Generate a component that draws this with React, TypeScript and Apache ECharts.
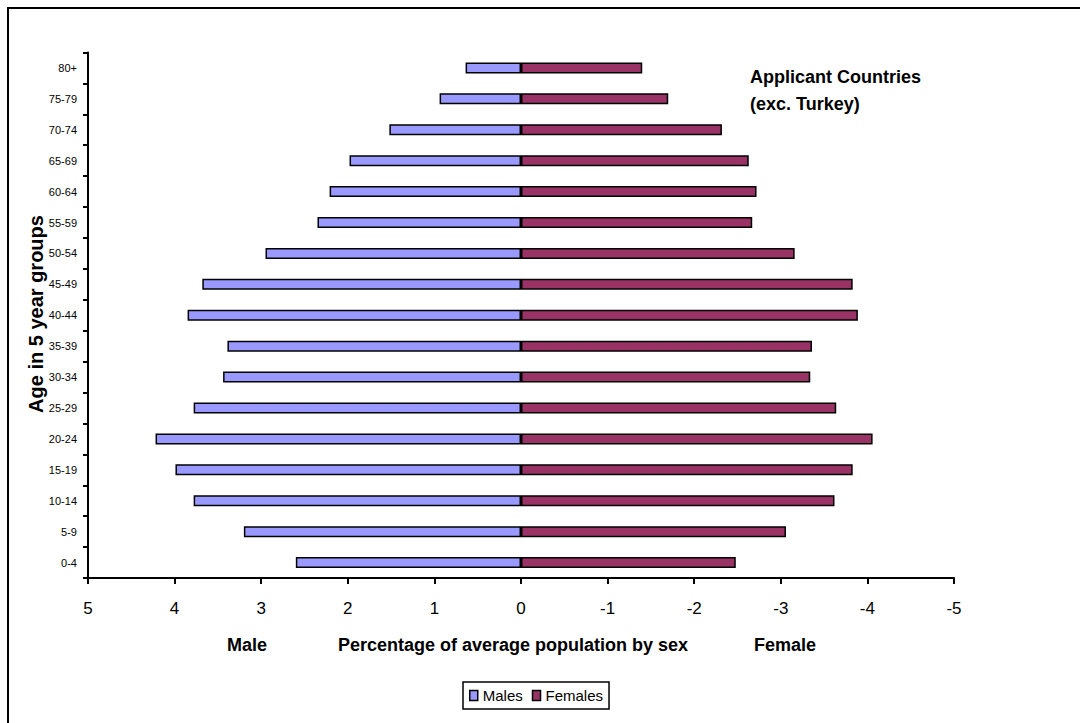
import React, { useEffect, useRef } from "react";
import * as echarts from "echarts";

const categories = ["0-4", "5-9", "10-14", "15-19", "20-24", "25-29", "30-34", "35-39", "40-44", "45-49", "50-54", "55-59", "60-64", "65-69", "70-74", "75-79", "80+"];
const males = [2.6, 3.2, 3.78, 3.99, 4.22, 3.78, 3.44, 3.39, 3.85, 3.68, 2.95, 2.35, 2.21, 1.98, 1.52, 0.94, 0.64];
const females = [-2.48, -3.06, -3.62, -3.83, -4.06, -3.64, -3.34, -3.36, -3.89, -3.83, -3.16, -2.67, -2.72, -2.63, -2.32, -1.7, -1.4];
const seriesNames = ["Males", "Females"];
const titleLines = ["Applicant Countries", "(exc. Turkey)"];
const xNames = ["Male", "Percentage of average population by sex", "Female"];
const yName = "Age in 5 year groups";

const FONT = "Arial, 'Liberation Sans', Helvetica, sans-serif";

export default function App() {
  const ref = useRef<HTMLDivElement>(null);
  useEffect(() => {
    if (!ref.current) return;
    const chart = echarts.init(ref.current, undefined, { renderer: "svg" });
    const bold = { fontFamily: FONT, fontWeight: "bold", fill: "#000" };
    chart.setOption({
      animation: false,
      backgroundColor: "#fff",
      textStyle: { fontFamily: FONT },
      grid: { left: 88, right: 126, top: 52.5, bottom: 145, containLabel: false },
      xAxis: {
        type: "value",
        min: -5,
        max: 5,
        interval: 1,
        inverse: true,
        axisLine: { show: true, onZero: false, lineStyle: { color: "#000", width: 2 } },
        axisTick: { show: true, length: 6, lineStyle: { color: "#000", width: 2 } },
        axisLabel: { color: "#000", fontSize: 17, margin: 22, fontFamily: FONT },
        splitLine: { show: false },
      },
      yAxis: {
        type: "category",
        data: categories,
        axisLine: { show: true, onZero: false, lineStyle: { color: "#000", width: 2 } },
        axisTick: { show: true, length: 5, lineStyle: { color: "#000", width: 2 } },
        axisLabel: { color: "#000", fontSize: 11, margin: 11, fontFamily: FONT, interval: 0 },
        splitLine: { show: false },
      },
      legend: {
        data: seriesNames,
        left: 463,
        top: 682,
        orient: "horizontal",
        padding: [6, 6, 6, 6],
        itemWidth: 8,
        itemHeight: 10,
        itemGap: 9,
        icon: "rect",
        borderColor: "#000",
        borderWidth: 1.5,
        itemStyle: { borderColor: "#000", borderWidth: 1.5 },
        textStyle: { color: "#000", fontSize: 15, fontFamily: FONT },
      },
      series: [
        {
          name: seriesNames[0],
          type: "bar",
          data: males,
          barWidth: 11,
          barGap: "-100%",
          itemStyle: { color: "#9999FF", borderColor: "#000", borderWidth: 1.5 },
        },
        {
          name: seriesNames[1],
          type: "bar",
          data: females,
          barWidth: 11,
          barGap: "-100%",
          itemStyle: { color: "#993366", borderColor: "#000", borderWidth: 1.5 },
        },
      ],
      graphic: [
        {
          type: "rect",
          silent: true,
          z: -1,
          shape: { x: 8, y: 8, width: 1200, height: 1000 },
          style: { fill: "none", stroke: "#000", lineWidth: 2 },
        },
        { type: "text", x: 750, y: 77, style: { ...bold, text: titleLines[0], fontSize: 18, align: "left", verticalAlign: "middle" } },
        { type: "text", x: 750, y: 104, style: { ...bold, text: titleLines[1], fontSize: 18, align: "left", verticalAlign: "middle" } },
        { type: "text", x: 227, y: 645, style: { ...bold, text: xNames[0], fontSize: 18, align: "left", verticalAlign: "middle" } },
        { type: "text", x: 338, y: 645, style: { ...bold, text: xNames[1], fontSize: 18, align: "left", verticalAlign: "middle" } },
        { type: "text", x: 754, y: 645, style: { ...bold, text: xNames[2], fontSize: 18, align: "left", verticalAlign: "middle" } },
        {
          type: "text",
          x: 36,
          y: 314,
          rotation: Math.PI / 2,
          style: { ...bold, text: yName, fontSize: 20, align: "center", verticalAlign: "middle" },
        },
      ],
    });
    return () => chart.dispose();
  }, []);
  return <div ref={ref} style={{ position: "fixed", left: 0, top: 0, width: 1080, height: 723 }} />;
}
